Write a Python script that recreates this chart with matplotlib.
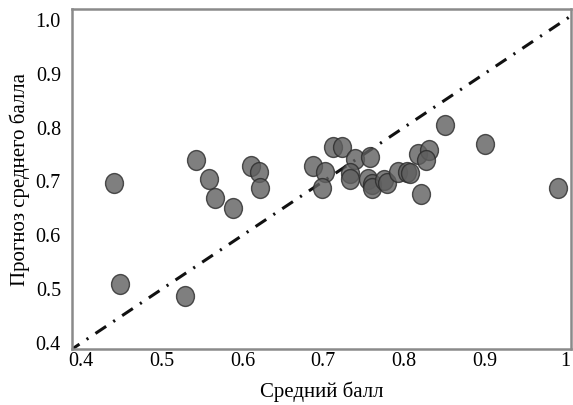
import numpy as np
import matplotlib.pyplot as plt
from matplotlib.path import Path
from matplotlib.transforms import Affine2D

plt.rcParams['font.family'] = ['Liberation Serif', 'DejaVu Serif']

# средний балл (x) и прогноз (y)
x_vals = [0.441, 0.448, 0.529, 0.543, 0.559, 0.566, 0.588, 0.611, 0.620, 0.622,
          0.688, 0.702, 0.699, 0.712, 0.723, 0.739, 0.758, 0.733, 0.733, 0.755,
          0.761, 0.761, 0.776, 0.779, 0.793, 0.804, 0.807, 0.817, 0.831, 0.827,
          0.821, 0.851, 0.901, 0.991]
y_vals = [0.698, 0.510, 0.488, 0.739, 0.704, 0.670, 0.651, 0.728, 0.717, 0.687,
          0.729, 0.717, 0.687, 0.763, 0.763, 0.741, 0.746, 0.715, 0.705, 0.705,
          0.696, 0.687, 0.702, 0.698, 0.717, 0.717, 0.715, 0.750, 0.759, 0.739,
          0.677, 0.804, 0.769, 0.687]
line_x = [0.385, 1.01]
x_ticks = [0.4, 0.5, 0.6, 0.7, 0.8, 0.9, 1.0]
x_labels = ['0.4', '0.5', '0.6', '0.7', '0.8', '0.9', '1']
y_ticks = [0.4, 0.5, 0.6, 0.7, 0.8, 0.9, 1.0]
y_labels = ['0.4', '0.5', '0.6', '0.7', '0.8', '0.9', '1.0']

# slightly tall ellipse marker
ell = Path.unit_circle().transformed(Affine2D().scale(0.9, 1.0))

fig = plt.figure(figsize=(5.73, 4.05), dpi=100)
ax = fig.add_axes([0.1257, 0.138, 0.8708, 0.840])

ax.plot(line_x, line_x, color='#111111', lw=2.2,
        linestyle=(0, (4.2, 2.8, 0.7, 2.8)), zorder=1)
ax.scatter(x_vals, y_vals, s=205, marker=ell, facecolor='#5f5f5f',
           edgecolor='#2a2a2a', linewidth=1.0, alpha=0.8, zorder=2)

ax.set_xlim(0.389, 1.007)
ax.set_ylim(0.389, 1.02)
ax.set_xticks(x_ticks)
ax.set_xticklabels(x_labels)
ax.set_yticks(y_ticks)
ax.set_yticklabels(y_labels)
ax.tick_params(length=0, labelsize=14.5)
ax.tick_params(axis='y', pad=8)
ax.tick_params(axis='x', pad=2)
for s in ax.spines.values():
    s.set_color('#8a8a8a')
    s.set_linewidth(1.8)

ax.set_xlabel('Средний балл', fontsize=15, labelpad=8)
ax.set_ylabel('Прогноз среднего балла', fontsize=15, labelpad=4)

fig.savefig('out.png', dpi=100)
